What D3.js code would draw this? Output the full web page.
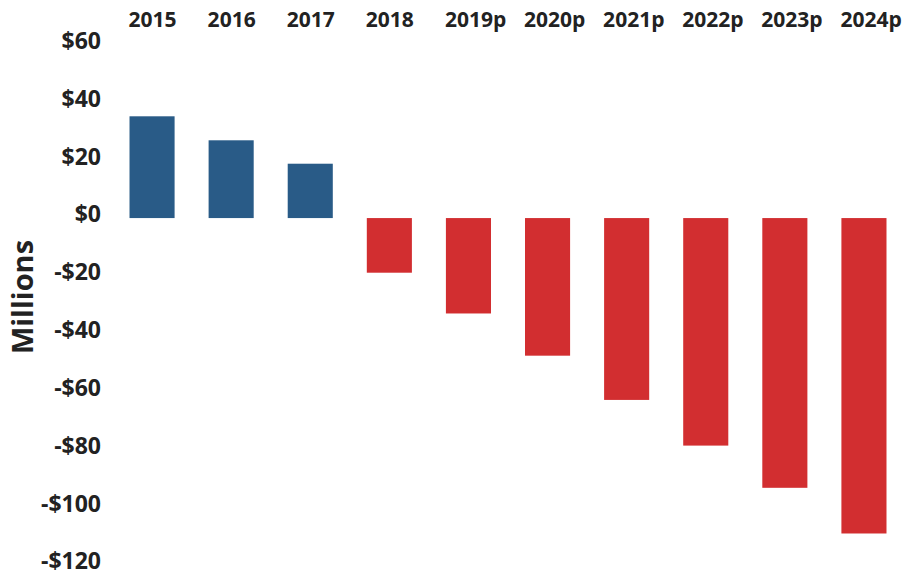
<!DOCTYPE html>
<html><head><meta charset="utf-8">
<script src="https://cdn.jsdelivr.net/npm/d3@7"></script>
<style>body{margin:0;background:#fff}svg{display:block}</style>
</head><body>
<svg id="c" width="904" height="575"></svg>
<script>
const categories = ["2015","2016","2017","2018","2019p","2020p","2021p","2022p","2023p","2024p"];
const values = [35.2, 26.9, 18.8, -18.9, -33.0, -47.6, -62.9, -78.7, -93.3, -109.1];
const yTicks = [60, 40, 20, 0, -20, -40, -60, -80, -100, -120];
const axisTitle = "Millions";

const svg = d3.select("#c");
const font = "'Open Sans', sans-serif";
const x = d3.scaleBand().domain(categories).range([112.5, 903.5]).paddingInner(0.43).paddingOuter(0.215);
const y = d3.scaleLinear().domain([-120, 60]).range([565, 44.6]);

svg.selectAll("rect.bar").data(categories).join("rect")
  .attr("class","bar")
  .attr("x", d => x(d))
  .attr("width", x.bandwidth())
  .attr("y", (d,i) => y(Math.max(0, values[i])))
  .attr("height", (d,i) => Math.abs(y(values[i]) - y(0)))
  .attr("fill", (d,i) => values[i] >= 0 ? "#295B87" : "#D22E30");

// top category axis (labels left-aligned to each bar)
const xAxis = d3.axisTop(x).tickSize(0).tickPadding(0);
const gx = svg.append("g").attr("transform","translate(0,27)").call(xAxis);
gx.select(".domain").remove();
gx.selectAll("text").attr("text-anchor","start").attr("x", -x.bandwidth()/2 - 1)
  .attr("font-family",font).attr("font-weight",700).attr("font-size",21).attr("fill","#222");

// left value axis
const yAxis = d3.axisLeft(y).tickValues(yTicks).tickSize(0).tickPadding(0)
  .tickFormat(d => (d < 0 ? "-$" : "$") + Math.abs(d));
const gy = svg.append("g").attr("transform","translate(101,-3.5)").call(yAxis);
gy.select(".domain").remove();
gy.selectAll("text").attr("font-family",font).attr("font-weight",700).attr("font-size",23).attr("fill","#222");

svg.append("text").attr("transform","translate(33,297) rotate(-90)")
  .attr("text-anchor","middle").attr("font-family",font).attr("font-weight",700)
  .attr("font-size",29).attr("fill","#222").text(axisTitle);
</script>
</body></html>
